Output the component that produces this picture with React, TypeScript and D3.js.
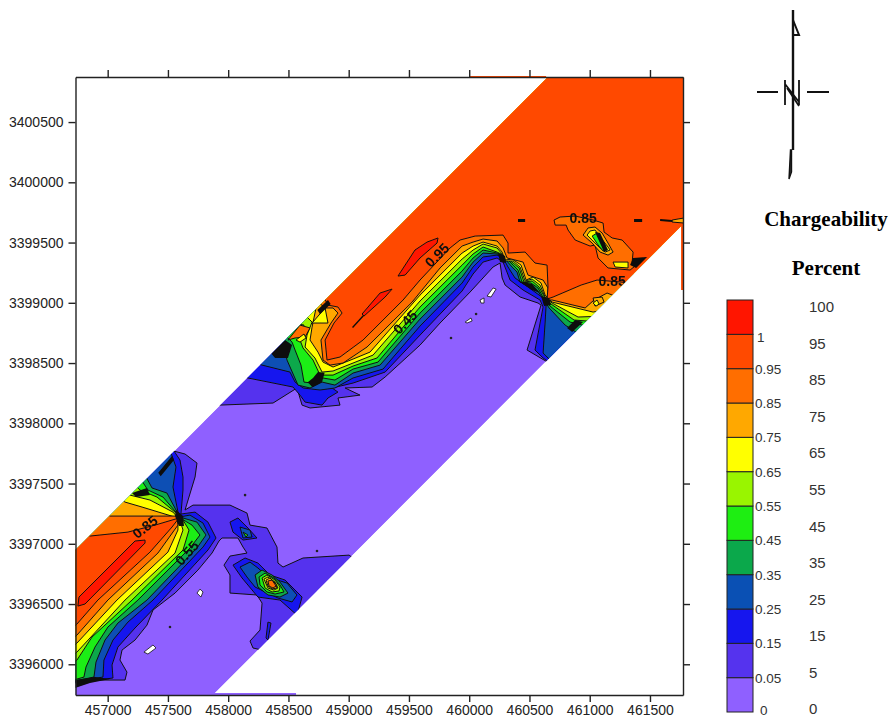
import React, { useEffect, useRef } from 'react';
import * as d3 from 'd3';

type Pt = [number, number];

// all map vertices are metres east of 456000 and north of 3395000
const E0 = 456000;
const N0 = 3395000;

const eastingTicks = [457000, 457500, 458000, 458500, 459000, 459500, 460000, 460500, 461000, 461500];
const northingTicks = [3396000, 3396500, 3397000, 3397500, 3398000, 3398500, 3399000, 3399500, 3400000, 3400500];

const bandColors = ['#8f60ff', '#5533ee', '#1616ee', '#0a50b4', '#0ba84b', '#1eee12', '#99f500', '#ffff00', '#ffa800', '#ff6e00', '#ff4a00', '#ff1500'];
const bandLabels = ['0', '0.05', '0.15', '0.25', '0.35', '0.45', '0.55', '0.65', '0.75', '0.85', '0.95', '1'];
const percentLabels = ['100', '95', '85', '75', '65', '55', '45', '35', '25', '15', '5', '0'];

const swath: Pt[] = [[733,1948],[4654,5874],[5775,5874],[5775,4654],[1874,745],[733,745]];

const swClose: Pt[] = [[936,2529],[438,2031],[438,786]];
const sw05: Pt[] = [[604,836],[895,869],[1144,869],[1160,935],[1102,1035],[1119,1118],[1227,1201],[1326,1325],[1376,1450],[1559,1591],[1749,1782],[1866,1923],[1924,2023],[1949,2048],[2081,2048],[2123,1973],[2156,1923],[2015,1898],[1965,1823],[2015,1741],[2015,1591],[2239,1575],[2281,1508],[2264,1284],[2181,1193],[2206,1135],[2281,1118],[2430,1035],[3177,1782],[3003,1906],[2621,1882],[2455,1807],[2413,1840],[2405,1973],[2322,2131],[2181,2155],[2156,2255],[2015,2321],[1708,2321],[1642,2280],[1725,2554],[1741,2670],[1642,2745],[1517,2778],[1351,2736]];
const sw15: Pt[] = [[604,828],[1044,886],[1036,994],[1085,1143],[1227,1301],[1451,1533],[1832,1948],[1899,2048],[1832,2180],[1725,2263],[1608,2247],[1625,2446],[1625,2554],[1600,2695],[1534,2795]];
const sw25: Pt[] = [[604,836],[961,894],[969,1035],[1044,1201],[1168,1350],[1376,1533],[1791,1973],[1849,2056],[1791,2172],[1683,2238],[1592,2222],[1542,2471],[1567,2637],[1517,2778]];
const sw35: Pt[] = [[604,836],[886,894],[903,1018],[978,1201],[1085,1342],[1326,1533],[1741,1965],[1816,2073],[1741,2180],[1625,2214],[1567,2280],[1492,2421],[1368,2463],[1310,2570]];
const sw45: Pt[] = [[604,836],[803,894],[820,977],[895,1143],[1002,1309],[1251,1533],[1683,1965],[1766,2073],[1700,2155],[1617,2205],[1559,2272],[1459,2388],[1334,2446],[1268,2546]];
const sw55: Pt[] = [[604,935],[745,1035],[870,1226],[1202,1533],[1625,1948],[1675,2114],[1625,2197],[1559,2263],[1409,2388],[1268,2446],[1202,2512]];
const sw65: Pt[] = [[604,969],[745,1101],[1144,1533],[1559,1923],[1625,2114],[1600,2197],[1542,2263],[1351,2363],[1185,2404],[1102,2446]];
const sw75: Pt[] = [[604,1035],[745,1176],[1077,1533],[1500,1931],[1583,2114],[1583,2214],[1285,2305],[1144,2346],[1060,2404]];
const sw85: Pt[] = [[604,1118],[745,1242],[1002,1533],[1417,1923],[1583,2155],[1575,2230],[1019,2230],[936,2280]];
const sw95: Pt[] = [[604,1201],[745,1334],[919,1533],[1351,1931],[1534,2139],[1592,2214],[1393,2155],[1168,2097],[853,2064],[770,2114]];
const sw100: Pt[] = [[762,1558],[1227,2023],[1310,2031],[1310,2006],[812,1500],[753,1483]];

const neClose: Pt[] = [[6082,4604],[6082,6181],[4588,6181]];
const neSouth: Pt = [4754,3442];
const neEast: Pt = [5418,4106];
const ne05: Pt[] = [[1808,3151],[1932,3151],[2372,3168],[2571,3293],[2613,3151],[2679,3127],[2928,3151],[2911,3210],[3094,3234],[2970,3293],[3194,3301],[3302,3384],[3592,3649],[3758,3832],[4007,4089],[4198,4297],[4256,4330],[4273,4206],[4298,4147],[4422,4048],[4571,3998],[4596,3981],[4480,3608],[4621,3525],neSouth];
const ne15: Pt[] = [[2056,3400],[2164,3376],[2538,3301],[2596,3234],[2638,3176],[2779,3151],[2828,3210],[2911,3259],[2862,3293],[3036,3334],[3302,3425],[3592,3732],[3941,4098],[4032,4239],[4115,4338],[4231,4372],[4281,4338],[4339,4189],[4447,4106],[4588,4023],[4613,3965],[4546,3608],[4613,3542],neSouth];
const ne25: Pt[] = [[2140,3525],[2281,3483],[2513,3425],[2555,3342],[2621,3293],[2762,3276],[2886,3293],[3036,3376],[3285,3450],[3592,3807],[3941,4164],[4032,4297],[4115,4380],[4231,4396],[4281,4372],[4322,4297],[4380,4206],[4488,4131],[4613,4040],[4638,3981],[4630,3840],[4613,3583],neSouth];
const ne35: Pt[] = [[2364,3732],[2455,3674],[2488,3525],[2579,3317],[2679,3293],[2779,3342],[2886,3317],[3036,3417],[3260,3483],[3592,3865],[3941,4214],[4032,4338],[4115,4413],[4231,4405],[4289,4372],[4356,4297],[4397,4255],[4422,4172],[4505,4147],[4563,4106],[4621,4023],[4663,3957],[4796,3815],[4962,3708],neEast];
const ne45: Pt[] = [[2430,3774],[2530,3674],[2555,3608],[2604,3483],[2629,3342],[2696,3334],[2787,3376],[2886,3359],[3036,3450],[3243,3508],[3592,3915],[3941,4264],[4032,4372],[4115,4438],[4231,4413],[4298,4380],[4364,4313],[4405,4272],[4439,4172],[4513,4164],[4571,4123],[4621,4031],[4671,3973],[4837,3840],[5044,3791],neEast];
const ne55: Pt[] = [[2496,3840],[2629,3815],[2596,3691],[2621,3625],[2704,3525],[2762,3400],[2870,3400],[3036,3475],[3235,3542],[3592,3965],[3941,4313],[4032,4405],[4115,4463],[4231,4421],[4298,4388],[4364,4330],[4414,4289],[4455,4172],[4522,4181],[4580,4131],[4630,4040],[4679,3990],[4870,3857],[5086,3840],neEast];
const ne65: Pt[] = [[2596,3940],[2696,3840],[2654,3732],[2638,3633],[2720,3542],[2779,3425],[2870,3434],[3036,3500],[3202,3566],[3592,4015],[3941,4363],[4032,4438],[4115,4488],[4231,4455],[4273,4405],[4298,4347],[4364,4347],[4422,4297],[4464,4181],[4522,4197],[4588,4147],[4630,4048],[4688,3998],[4903,3882],[5128,3890],neEast];
const ne75: Pt[] = [[2662,4006],[2729,3957],[2696,3799],[2679,3691],[2745,3591],[2787,3508],[2870,3467],[3036,3533],[3177,3591],[3592,4064],[3941,4413],[4032,4471],[4115,4504],[4231,4471],[4273,4421],[4298,4355],[4356,4363],[4430,4313],[4472,4189],[4530,4214],[4596,4164],[4630,4064],[4688,4006],[5028,3923],[5186,3957],neEast];
const ne85: Pt[] = [[2679,4064],[2804,3957],[2870,3957],[2911,3915],[2853,3832],[2770,3691],[2787,3525],[2845,3483],[2953,3500],[3152,3633],[3526,4006],[3758,4289],[3941,4471],[4032,4504],[4115,4529],[4231,4513],[4281,4455],[4314,4372],[4447,4338],[4488,4230],[4613,4189],[4654,4123],[4646,4023],[4688,4023],[4962,3957],[5036,4023],[5144,4081],[5294,4023],neEast];
const ne95: Pt[] = [[2762,4106],[2828,3981],[2911,3965],[2945,3915],[2878,3832],[2804,3691],[2820,3525],[2928,3550],[3119,3691],[3451,4023],[3592,4189],[3841,4455],[3924,4521],[4049,4554],[4281,4562],[4322,4496],[4322,4413],[4464,4421],[4546,4330],[4646,4313],[4654,4131],[4646,4031],[4696,4048],[4928,4147],[5061,4189],[5352,4164]];
const ne100a: Pt[] = [[3111,3907],[3260,4081],[3360,4114],[3302,4048],[3127,3890]];
const ne100b: Pt[] = [[3409,4222],[3550,4438],[3650,4504],[3741,4538],[3733,4496],[3592,4372],[3468,4230]];

// anomaly near 458400 / 3396600
const b15: Pt[] = [[2040,1823],[2140,1882],[2247,1840],[2347,1741],[2472,1699],[2613,1558],[2571,1408],[2430,1533],[2247,1558],[2115,1716]];
const b25: Pt[] = [[2098,1807],[2181,1848],[2247,1799],[2330,1724],[2488,1674],[2571,1575],[2530,1517],[2413,1550],[2223,1641],[2156,1724]];
const b35: Pt[] = [[2223,1741],[2281,1782],[2364,1741],[2430,1682],[2496,1591],[2430,1558],[2330,1575],[2247,1641]];
const b45: Pt[] = [[2256,1724],[2306,1757],[2380,1716],[2430,1658],[2463,1600],[2389,1583],[2322,1600],[2264,1658]];
const b55: Pt[] = [[2281,1716],[2322,1741],[2389,1699],[2430,1641],[2422,1608],[2364,1600],[2306,1633]];
const b65: Pt[] = [[2297,1707],[2330,1724],[2389,1682],[2413,1633],[2380,1616],[2330,1633]];
const b75: Pt[] = [[2314,1699],[2347,1716],[2397,1666],[2405,1633],[2364,1625],[2330,1649]];
const b85: Pt[] = [[2330,1691],[2364,1699],[2397,1649],[2372,1633],[2339,1649]];
const c15: Pt[] = [[2015,2180],[2081,2214],[2164,2131],[2239,2048],[2123,2031],[2040,2097]];
const c25: Pt[] = [[2098,2139],[2181,2114],[2198,2056],[2123,2048]];
const c45: Pt[] = [[2123,2097],[2164,2073],[2148,2056]];
const slit15: Pt[] = [[2330,1350],[2355,1342],[2330,1201],[2314,1218]];

// anomaly near 461100 / 3399400
const d85: Pt[] = [[4704,4687],[4754,4712],[4879,4720],[5028,4687],[5111,4662],[5119,4587],[5186,4538],[5269,4521],[5360,4421],[5352,4338],[5418,4338],[5335,4272],[5152,4289],[5069,4372],[5044,4480],[5003,4471],[4879,4521],[4820,4604],[4804,4645],[4713,4645]];
const d75: Pt[] = [[4945,4562],[4986,4621],[5044,4629],[5103,4579],[5152,4496],[5194,4421],[5152,4396],[5086,4421],[5020,4496]];
const d65: Pt[] = [[4978,4562],[5003,4596],[5044,4604],[5086,4546],[5152,4463],[5169,4438],[5128,4421],[5086,4455],[5020,4521]];
const d45: Pt[] = [[5020,4554],[5061,4579],[5103,4513],[5136,4438],[5111,4430],[5069,4480]];
const strip65: Pt[] = [[5194,4338],[5318,4338],[5318,4289],[5211,4297]];
const strip75: Pt[] = [[5684,4687],[5783,4704],[5783,4662],[5684,4670]];
const patch75: Pt[] = [[5028,4040],[5103,4048],[5119,4006],[5044,3973]];
const patch65: Pt[] = [[5028,3998],[5061,4023],[5078,3990],[5053,3973]];
const wedge85: Pt[] = [[2496,3691],[2596,3815],[2679,3791],[2638,3716],[2555,3708]];
const wedge65: Pt[] = [[2563,3691],[2629,3741],[2646,3708],[2596,3674]];
const isle65: Pt[] = [[2696,3832],[2804,3957],[2828,3832],[2762,3832]];

// places where the contours run together into solid black
const denseLines: Pt[][] = [
  [[1567,2280],[1625,2230],[1633,2147],[1592,2147],[1559,2230]],
  [[729,869],[895,894],[1019,877],[853,844],[729,803]],
  [[1202,2421],[1326,2463],[1351,2404],[1235,2388]],
  [[1420,2590],[1534,2728],[1550,2695],[1440,2560]],
  [[4239,4413],[4298,4388],[4306,4330],[4256,4338]],
  [[4596,4056],[4663,4040],[4679,3981],[4621,3973]],
  [[2704,3376],[2745,3425],[2800,3420],[2779,3342],[2700,3300],[2660,3340]],
  [[2347,3591],[2472,3691],[2530,3649],[2496,3542],[2389,3542]],
  [[2740,3940],[2828,4023],[2850,3990],[2762,3905]],
  [[5360,4372],[5476,4380],[5385,4289],[5335,4313]],
  [[4879,3857],[4945,3840],[4854,3757],[4812,3791]],
  [[4405,4181],[4522,4156],[4588,4081],[4522,4106]],
  [[5044,4587],[5086,4579],[5152,4438],[5119,4421]],
  [[3028,3799],[3119,3898],[3127,3890],[3036,3791]],
  [[5584,4695],[5684,4687],[5684,4670],[5584,4679]],
  [[5368,4695],[5435,4695],[5435,4670],[5368,4670]],
  [[4405,4695],[4464,4695],[4464,4670],[4405,4670]],
];

const blanks: Pt[][] = [
  [[1741,1591],[1766,1624],[1791,1600],[1774,1558]],
  [[1301,1101],[1376,1160],[1401,1135],[1334,1085]],
  [[4148,4056],[4198,4123],[4223,4114],[4181,4048]],
  [[4090,4023],[4123,4040],[4123,3998],[4098,3998]],
  [[3966,3840],[4015,3874],[4024,3849],[3982,3832]],
];
const specks: Pt[] = [[4057,3907],[3849,3708],[2140,2404],[1517,1309],[2737,1940]];

const topSliver: Pt[] = [[4007,5882],[4638,5882],[4638,5866],[4007,5866]];
const rightSliver: Pt[] = [[5758,4654],[5775,4654],[5775,4106],[5758,4106]];
const bottomSliver: Pt[] = [[1874,761],[2563,761],[2563,745],[1874,745]];

const contourLabels: { text: string; at: Pt; angle: number }[] = [
  { text: '0.85', at: [1310,2139], angle: -38 },
  { text: '0.55', at: [1658,1923], angle: -48 },
  { text: '0.95', at: [3733,4396], angle: -45 },
  { text: '0.45', at: [3468,3840], angle: -45 },
  { text: '0.85', at: [4945,4704], angle: 0 },
  { text: '0.85', at: [5186,4181], angle: 0 },
];

// painter's order: each ring is the area at or above its band
const layers: { band: number; ring: Pt[] }[] = [
  { band: 1, ring: [...sw05, ...swClose] },
  { band: 1, ring: [...ne05, ...neClose] },
  { band: 2, ring: [...sw15, ...swClose] },
  { band: 2, ring: [...ne15, ...neClose] },
  { band: 3, ring: [...sw25, ...swClose] },
  { band: 3, ring: [...ne25, ...neClose] },
  { band: 4, ring: [...sw35, ...swClose] },
  { band: 4, ring: [...ne35, ...neClose] },
  { band: 5, ring: [...sw45, ...swClose] },
  { band: 5, ring: [...ne45, ...neClose] },
  { band: 6, ring: [...sw55, ...swClose] },
  { band: 6, ring: [...ne55, ...neClose] },
  { band: 7, ring: [...sw65, ...swClose] },
  { band: 7, ring: [...ne65, ...neClose] },
  { band: 8, ring: [...sw75, ...swClose] },
  { band: 8, ring: [...ne75, ...neClose] },
  { band: 9, ring: [...sw85, ...swClose] },
  { band: 9, ring: [...ne85, ...neClose] },
  { band: 10, ring: [...sw95, ...swClose] },
  { band: 10, ring: [...ne95, ...neClose] },
  { band: 9, ring: wedge85 },
  { band: 7, ring: wedge65 },
  { band: 7, ring: isle65 },
  { band: 11, ring: sw100 },
  { band: 11, ring: ne100a },
  { band: 11, ring: ne100b },
  { band: 2, ring: b15 },
  { band: 2, ring: c15 },
  { band: 2, ring: slit15 },
  { band: 3, ring: b25 },
  { band: 3, ring: c25 },
  { band: 4, ring: b35 },
  { band: 5, ring: b45 },
  { band: 5, ring: c45 },
  { band: 6, ring: b55 },
  { band: 7, ring: b65 },
  { band: 8, ring: b75 },
  { band: 9, ring: b85 },
  { band: 9, ring: d85 },
  { band: 8, ring: d75 },
  { band: 7, ring: d65 },
  { band: 5, ring: d45 },
  { band: 7, ring: strip65 },
  { band: 8, ring: strip75 },
  { band: 8, ring: patch75 },
  { band: 7, ring: patch65 },
];

const width = 893;
const height = 718;
const sansFont = '"Liberation Sans", Arial, sans-serif';

const x = d3.scaleLinear().domain([456733, 461774]).range([75.5, 683]);
const y = d3.scaleLinear().domain([3395745, 3400874]).range([695, 77]);
const px = (p: Pt) => x(E0 + p[0]);
const py = (p: Pt) => y(N0 + p[1]);

const straight = d3.line<Pt>().x(px).y(py).curve(d3.curveLinearClosed);

const barY = d3.scaleLinear().domain([0, bandColors.length]).range([712, 300]);
const percentY = d3.scalePoint().domain(percentLabels).range([307, 709]);

const App = () => {
  const xAxisRef = useRef<SVGGElement>(null);
  const yAxisRef = useRef<SVGGElement>(null);
  const topAxisRef = useRef<SVGGElement>(null);
  const rightAxisRef = useRef<SVGGElement>(null);

  useEffect(() => {
    const style = (g: any) => {
      g.selectAll('path,line').attr('stroke', '#222').attr('stroke-width', 1.4);
      g.selectAll('text').attr('fill', '#222').style('font-family', sansFont).style('font-size', '14px');
    };
    d3.select(xAxisRef.current!).call(
      d3.axisBottom(x).tickValues(eastingTicks).tickSize(7).tickSizeOuter(0).tickPadding(3).tickFormat(d3.format('d') as any)
    ).call(style);
    d3.select(topAxisRef.current!).call(
      d3.axisTop(x).tickValues(eastingTicks).tickSize(7).tickSizeOuter(0).tickFormat(() => '')
    ).call(style);
    d3.select(yAxisRef.current!).call(
      d3.axisLeft(y).tickValues(northingTicks).tickSize(7).tickSizeOuter(0).tickPadding(5).tickFormat(d3.format('d') as any)
    ).call(style);
    d3.select(rightAxisRef.current!).call(
      d3.axisRight(y).tickValues(northingTicks).tickSize(7).tickSizeOuter(0).tickFormat(() => '')
    ).call(style);
  }, []);

  return (
    <svg width={width} height={height} style={{ position: 'absolute', left: 0, top: 0, background: '#fff' }}>
      <defs>
        <clipPath id="swath-clip">
          <path d={straight(swath)!} />
        </clipPath>
        <filter id="soft" x="0" y="0" width="1" height="1">
          <feGaussianBlur stdDeviation="0.45" />
        </filter>
      </defs>

      <g filter="url(#soft)">
        <g clipPath="url(#swath-clip)">
          <path d={straight(swath)!} fill={bandColors[0]} />
          {layers.map((layer, i) => (
            <path key={i} d={straight(layer.ring)!} fill={bandColors[layer.band]} stroke="#111" strokeWidth={1} strokeLinejoin="round" />
          ))}
          {denseLines.map((ring, i) => (
            <path key={i} d={straight(ring)!} fill="#0a0a0a" />
          ))}
          {blanks.map((ring, i) => (
            <path key={i} d={straight(ring)!} fill="#fff" stroke="#111" strokeWidth={0.8} />
          ))}
          {specks.map((p, i) => (
            <circle key={i} cx={px(p)} cy={py(p)} r={1.3} fill="#222" />
          ))}
          {contourLabels.map((l, i) => (
            <text
              key={i}
              transform={`translate(${px(l.at)},${py(l.at)}) rotate(${l.angle})`}
              textAnchor="middle"
              dy="0.35em"
              fontFamily={sansFont}
              fontWeight="bold"
              fontSize={14}
              fill="#111"
            >
              {l.text}
            </text>
          ))}
        </g>
        <path d={straight(topSliver)!} fill={bandColors[10]} />
        <path d={straight(rightSliver)!} fill={bandColors[10]} />
        <path d={straight(bottomSliver)!} fill={bandColors[0]} />
      </g>

      <g ref={topAxisRef} transform="translate(0,77)" />
      <g ref={xAxisRef} transform="translate(0,695)" />
      <g ref={yAxisRef} transform="translate(75.5,0)" />
      <g ref={rightAxisRef} transform="translate(683,0)" />

      {/* north arrow */}
      <g fill="none" stroke="#111" strokeWidth={2}>
        <path d="M793 10V150" strokeWidth={2.4} />
        <path d="M793 20L799 35H794" />
        <path d="M790.5 150L789 179L791.5 172V150Z" fill="#333" strokeWidth={1.4} />
        <path d="M757 92H778M807 92H829" />
        <path d="M785 80V105M799 80V105M785 84L799 102M787 88L799 106" strokeWidth={1.8} />
      </g>

      <text x={826} y={226} textAnchor="middle" fontFamily='"Liberation Serif", serif' fontWeight="bold" fontSize={21} fill="#000">Chargeability</text>
      <text x={826} y={275} textAnchor="middle" fontFamily='"Liberation Serif", serif' fontWeight="bold" fontSize={21} fill="#000">Percent</text>

      {/* colour scale */}
      <g>
        {bandColors.map((c, i) => (
          <rect key={c} x={727} width={26} y={barY(i + 1)} height={barY(i) - barY(i + 1)} fill={c} stroke="#222" strokeWidth={1} />
        ))}
        {bandLabels.map((t, i) => (
          <text
            key={t}
            x={t === '0' ? 760 : t === '1' ? 757 : 755}
            y={t === '0' ? barY(0) - 2 : barY(i)}
            dy={t === '1' ? '0.55em' : '0.36em'}
            fontFamily={sansFont}
            fontSize={13.5}
            fill="#333"
          >
            {t}
          </text>
        ))}
        {percentLabels.map((t) => (
          <text key={t} x={809} y={percentY(t)} dy="0.35em" fontFamily={sansFont} fontSize={15} fill="#333">
            {t}
          </text>
        ))}
      </g>
    </svg>
  );
};

export default App;
